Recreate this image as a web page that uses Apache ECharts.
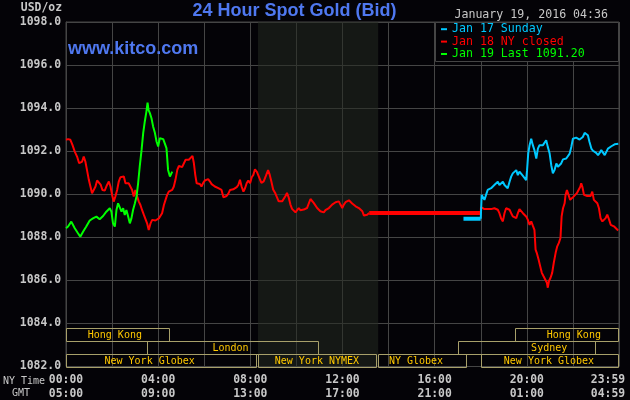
<!DOCTYPE html>
<html>
<head>
<meta charset="utf-8">
<script src="https://cdn.jsdelivr.net/npm/echarts@6/dist/echarts.min.js"></script>
<style>
html,body{margin:0;padding:0;background:#040307;}
#chart{width:630px;height:400px;}
</style>
</head>
<body>
<div id="chart"></div>
<script>
// ---- data (hours after NY midnight, USD/oz) ----
const greenTime = [0.00,0.09,0.23,0.38,0.52,0.62,0.74,0.88,1.03,1.17,1.32,1.46,1.61,1.75,1.90,1.97,2.04,2.12,2.19,2.26,2.33,2.41,2.48,2.55,2.62,2.70,2.77,2.84,2.91,2.99,3.06,3.13,3.20,3.28,3.35,3.42,3.49,3.54,3.58,3.64,3.71,3.78,3.86,3.93,4.00,4.07,4.14,4.22,4.29,4.36,4.43,4.51,4.55,4.61];
const greenValue = [1088.42,1088.50,1088.73,1088.42,1088.19,1088.03,1088.26,1088.50,1088.78,1088.88,1088.96,1088.84,1088.99,1089.19,1089.35,1089.19,1088.65,1088.50,1089.27,1089.58,1089.50,1089.19,1089.35,1089.04,1089.27,1088.96,1088.65,1088.88,1089.27,1089.58,1089.89,1090.51,1091.29,1092.06,1092.84,1093.38,1093.84,1094.26,1093.92,1093.77,1093.53,1093.15,1092.84,1092.45,1092.22,1092.60,1092.60,1092.56,1092.53,1092.14,1091.13,1090.82,1090.74,1091.05];

const redLeftTime = [0.00,0.09,0.19,0.28,0.38,0.48,0.57,0.62,0.70,0.77,0.84,0.91,0.99,1.06,1.13,1.20,1.28,1.35,1.43,1.51,1.58,1.68,1.78,1.86,1.93,2.00,2.07,2.14,2.22,2.29,2.36,2.43,2.51,2.58,2.65,2.72,2.80,2.87,2.94,3.01,3.09,3.16,3.23,3.30,3.38,3.45,3.52,3.59,3.67,3.74,3.81,3.88,3.96,4.03,4.10,4.17,4.25,4.32,4.39,4.46,4.54,4.61,4.68,4.75,4.83,4.90,4.97,5.04,5.12,5.19,5.26,5.33,5.41,5.49,5.55,5.61,5.67,5.74,5.81,5.88,5.96,6.03,6.10,6.17,6.25,6.32,6.39,6.46,6.54,6.61,6.68,6.75,6.83,6.90,6.97,7.04,7.12,7.19,7.26,7.33,7.41,7.48,7.55,7.62,7.70,7.77,7.84,7.91,7.99,8.06,8.13,8.20,8.28,8.35,
  8.48,8.58,8.67,8.77,8.84,8.91,8.99,9.09,9.16,9.23,9.30,9.38,9.45,9.52,9.59,9.67,9.74,9.81,9.88,9.96,10.03,10.10,10.17,10.25,10.32,10.39,10.46,10.54,10.61,10.68,10.75,10.83,10.90,10.97,11.04,11.12,11.19,11.26,11.33,11.41,11.48,11.55,11.62,11.70,11.77,11.84,11.91,11.99,12.06,12.13,12.20,12.28,12.35,12.42,12.49,12.57,12.64,12.71,12.78,12.86,12.93,13.00,13.07,13.16];
const redLeftValue = [1092.53,1092.56,1092.53,1092.29,1091.98,1091.75,1091.44,1091.36,1091.52,1091.75,1091.52,1091.13,1090.67,1090.36,1090.05,1090.05,1090.36,1090.64,1090.70,1090.43,1090.20,1090.17,1090.43,1090.59,1090.36,1089.97,1089.66,1089.89,1090.20,1090.59,1090.79,1090.74,1090.82,1090.51,1090.59,1090.51,1090.43,1090.20,1089.89,1090.20,1089.89,1089.66,1089.50,1089.27,1089.04,1088.96,1088.65,1088.34,1088.65,1088.81,1088.81,1088.78,1088.81,1088.88,1088.96,1089.12,1089.50,1089.74,1089.97,1090.12,1090.08,1090.20,1090.36,1090.67,1091.13,1091.32,1091.29,1091.26,1091.32,1091.60,1091.57,1091.60,1091.57,1091.78,1091.44,1090.90,1090.51,1090.43,1090.48,1090.36,1090.54,1090.64,1090.67,1090.70,1090.59,1090.47,1090.43,1090.36,1090.43,1090.28,1090.23,1090.20,1089.86,1089.81,1089.92,1090.02,1090.20,1090.20,1090.23,1090.28,1090.33,1090.43,1090.67,1090.36,1090.12,1090.28,1090.51,1090.64,1090.51,1090.79,1090.90,1091.16,1091.05,1090.98,
  1090.53,1090.60,1090.84,1091.12,1090.91,1090.60,1090.22,1090.03,1089.98,1089.67,1089.60,1089.67,1089.75,1089.91,1090.06,1089.83,1089.52,1089.32,1089.26,1089.16,1089.26,1089.36,1089.26,1089.21,1089.29,1089.36,1089.36,1089.44,1089.78,1089.72,1089.60,1089.52,1089.36,1089.29,1089.21,1089.13,1089.16,1089.26,1089.32,1089.36,1089.44,1089.52,1089.57,1089.63,1089.60,1089.67,1089.52,1089.36,1089.52,1089.63,1089.72,1089.72,1089.67,1089.57,1089.52,1089.44,1089.36,1089.36,1089.29,1089.21,1089.01,1088.98,1089.05,1089.13];

const redFlatTime = [13.16, 18.00];
const redFlatValue = [1089.13, 1089.13];

const redRightTime = [18.00,18.01,18.09,18.16,18.23,18.30,18.38,18.45,18.52,18.59,18.67,18.74,18.81,18.88,18.96,19.03,19.10,19.17,19.25,19.32,19.39,19.46,19.54,19.61,19.68,19.75,19.83,19.90,19.97,20.04,20.12,20.19,20.26,20.33,20.38,20.43,20.51,20.58,20.65,20.72,20.80,20.87,20.91,20.96,21.03,21.10,21.17,21.25,21.32,21.39,21.46,21.51,21.57,21.64,21.68,21.74,21.81,21.88,21.96,22.03,22.10,22.17,22.25,22.32,22.36,22.41,22.48,22.55,22.62,22.70,22.77,22.84,22.91,22.99,23.06,23.13,23.20,23.28,23.35,23.42,23.49,23.57,23.64,23.71,23.78,23.86,23.93,23.97];
const redRightValue = [1089.13,1089.40,1089.40,1089.31,1089.35,1089.31,1089.28,1089.31,1089.31,1089.35,1089.35,1089.28,1089.12,1088.89,1088.74,1089.12,1089.35,1089.40,1089.28,1089.12,1088.97,1089.05,1088.89,1089.12,1089.31,1089.28,1089.12,1089.05,1088.97,1088.82,1088.58,1088.74,1088.54,1088.35,1087.43,1087.28,1086.97,1086.66,1086.35,1086.20,1086.12,1085.89,1085.66,1085.97,1086.12,1086.35,1086.82,1087.28,1087.58,1087.74,1087.97,1088.97,1089.35,1089.58,1089.97,1090.20,1089.97,1089.74,1089.82,1089.89,1089.97,1090.05,1090.12,1090.35,1090.51,1090.35,1089.97,1089.97,1089.92,1089.97,1089.92,1090.12,1089.74,1089.74,1089.58,1089.35,1088.89,1088.74,1088.74,1088.89,1089.05,1088.82,1088.58,1088.54,1088.51,1088.43,1088.35,1088.32];

const cyanFlatTime = [17.25, 18.00];
const cyanFlatValue = [1088.86, 1088.86];

const cyanTime = [18.00,18.04,18.09,18.16,18.23,18.30,18.38,18.45,18.52,18.59,18.67,18.74,18.81,18.88,18.96,19.03,19.10,19.17,19.25,19.32,19.39,19.46,19.54,19.61,19.68,19.75,19.83,19.90,19.97,20.01,20.06,20.12,20.19,20.26,20.33,20.41,20.48,20.55,20.62,20.70,20.77,20.84,20.91,20.99,21.06,21.13,21.20,21.28,21.35,21.42,21.49,21.57,21.64,21.71,21.78,21.86,21.93,22.00,22.07,22.14,22.22,22.29,22.36,22.43,22.51,22.58,22.65,22.72,22.80,22.87,22.94,23.01,23.09,23.16,23.23,23.30,23.38,23.45,23.52,23.59,23.67,23.74,23.81,23.88,23.97];
const cyanValue = [1088.86,1089.97,1090.02,1089.74,1089.97,1090.20,1090.23,1090.28,1090.35,1090.43,1090.51,1090.58,1090.43,1090.51,1090.58,1090.43,1090.35,1090.28,1090.58,1090.82,1090.97,1091.05,1091.12,1090.89,1091.05,1090.97,1090.85,1090.82,1090.66,1091.12,1091.89,1092.28,1092.58,1092.28,1092.05,1091.66,1092.12,1092.28,1092.20,1092.28,1092.35,1092.51,1092.20,1091.89,1091.35,1090.97,1091.12,1091.43,1091.28,1091.20,1091.43,1091.62,1091.71,1091.66,1091.71,1091.89,1092.20,1092.58,1092.66,1092.63,1092.58,1092.54,1092.58,1092.66,1092.85,1092.92,1092.74,1092.43,1092.12,1092.02,1091.97,1091.92,1091.82,1091.92,1092.05,1091.97,1091.82,1091.97,1092.12,1092.20,1092.23,1092.28,1092.32,1092.32,1092.35];

const seriesNames = ['Jan 17 Sunday', 'Jan 18 NY closed', 'Jan 19 Last 1091.20'];

const nyTimeLabels = ['00:00','04:00','08:00','12:00','16:00','20:00','23:59'];
const gmtLabels    = ['05:00','09:00','13:00','17:00','21:00','01:00','04:59'];

const nymexPitStart = 8.33, nymexPitEnd = 13.55;

const sessionNames   = ['Hong Kong','Hong Kong','London','Sydney','New York Globex','New York NYMEX','NY Globex','New York Globex'];
const sessionStart   = [0, 19.5, 3.5, 17.0, 0, 8.35, 13.56, 18.0];
const sessionEnd     = [4.5, 24, 11.0, 23.0, 8.29, 13.5, 17.4, 24];
const sessionRow     = [0, 0, 1, 1, 2, 2, 2, 2];
const sessionLabelAt = [2.12, 22.04, 7.14, 20.97, 3.63, 10.89, 15.19, 20.96];

// ---- chart ----
const zip = (t, v) => t.map((x, i) => [x, v[i]]);
const RED = '#ff0000', CYAN = '#00c8ff', GREEN = '#00ff00';
const GRID = '#454545';
const LBL = '#c8c8c8';
const MONO = '"DejaVu Sans Mono", "Liberation Mono", monospace';

const chart = echarts.init(document.getElementById('chart'), null, {renderer: 'canvas'});

const option = {
  backgroundColor: '#040307',
  animation: false,
  grid: {left: 66, top: 22, width: 553, height: 344.5, show: true, borderColor: GRID, borderWidth: 1, backgroundColor: 'transparent',
    containLabel: false, outerBoundsMode: 'none'},
  xAxis: {
    type: 'value', min: 0, max: 24, interval: 2,
    axisLine: {show: false}, axisTick: {show: false},
    splitLine: {show: true, lineStyle: {color: GRID, width: 1}},
    axisLabel: {
      showMinLabel: true, showMaxLabel: true,
      color: LBL, fontFamily: MONO, fontWeight: 'bold', fontSize: 11.4, lineHeight: 14.5, margin: 6,
      formatter: function (v) {
        if (v % 4 !== 0) return '';
        const i = v / 4;
        if (v === 24) return '{e|' + nyTimeLabels[i] + '}\n{e|' + gmtLabels[i] + '}';
        return nyTimeLabels[i] + '\n' + gmtLabels[i];
      },
      rich: {e: {color: LBL, fontFamily: MONO, fontWeight: 'bold', fontSize: 11.4, lineHeight: 14.5, padding: [0, 22, 0, 0]}}
    }
  },
  yAxis: {
    type: 'value', min: 1082, max: 1098, interval: 2,
    axisLine: {show: true, lineStyle: {color: GRID}}, axisTick: {show: false},
    splitLine: {show: true, lineStyle: {color: GRID, width: 1}},
    axisLabel: {color: LBL, fontFamily: MONO, fontWeight: 'bold', fontSize: 11.4, margin: 5,
      formatter: v => v.toFixed(1)}
  },
  legend: {
    left: 441, top: 23, orient: 'vertical', itemGap: 0, itemWidth: 6, itemHeight: 2, icon: 'rect',
    selectedMode: false, padding: 0, z: 6,
    textStyle: {fontFamily: MONO, fontSize: 11.6, lineHeight: 12.4},
    data: [
      {name: seriesNames[0], textStyle: {color: CYAN}},
      {name: seriesNames[1], textStyle: {color: RED}},
      {name: seriesNames[2], textStyle: {color: GREEN}}
    ]
  },
  graphic: [
    {type: 'rect', z: 5, shape: {x: 435.5, y: 22.5, width: 183, height: 39}, style: {fill: '#040307', stroke: GRID, lineWidth: 1}},
    {type: 'text', z: 6, x: 294.5, y: 11, style: {text: '24 Hour Spot Gold (Bid)', fill: '#4f78f0', font: 'bold 18px "Liberation Sans", Arial, sans-serif', align: 'center', verticalAlign: 'middle'}},
    {type: 'text', z: 6, x: 68, y: 49, style: {text: 'www.kitco.com', fill: '#4f78f0', font: 'bold 18px "Liberation Sans", Arial, sans-serif', align: 'left', verticalAlign: 'middle'}},
    {type: 'text', z: 6, x: 608, y: 14.6, style: {text: 'January 19, 2016 04:36', fill: LBL, font: '11.6px ' + MONO, align: 'right', verticalAlign: 'middle'}},
    {type: 'text', z: 6, x: 62, y: 8, style: {text: 'USD/oz', fill: LBL, font: 'bold 11.4px ' + MONO, align: 'right', verticalAlign: 'middle'}},
    {type: 'text', z: 6, x: 3, y: 381, style: {text: 'NY Time', fill: LBL, font: '10px ' + MONO, align: 'left', verticalAlign: 'middle'}},
    {type: 'text', z: 6, x: 12, y: 393, style: {text: 'GMT', fill: LBL, font: '10px ' + MONO, align: 'left', verticalAlign: 'middle'}}
  ],
  series: [
    {
      type: 'line', name: 'pit', data: [], z: 1, silent: true,
      markArea: {silent: true, itemStyle: {color: 'rgba(36,42,32,0.55)'}, data: [[{xAxis: nymexPitStart}, {xAxis: nymexPitEnd}]]}
    },
    {
      type: 'custom', name: 'sessions', z: 3, silent: true, clip: false,
      data: sessionStart.map((s, i) => [s, sessionEnd[i], sessionRow[i], sessionLabelAt[i], i]),
      encode: {x: [0, 1, 3], y: -1},
      renderItem: function (params, api) {
        const s = api.value(0), e = api.value(1), row = api.value(2), lab = api.value(3), idx = api.value(4);
        const p0 = api.coord([s, 1082]), p1 = api.coord([e, 1082]);
        const rowH = api.size([0, 0.59])[1];
        const bottom = p0[1];
        const top = bottom - (3 - row) * rowH;
        const x0 = Math.round(p0[0]) + 0.5, x1 = Math.round(p1[0]) - 0.5;
        const y0 = Math.round(top) + 0.5, y1 = Math.round(top + rowH) + 0.5;
        return {
          type: 'group',
          children: [
            {type: 'rect', shape: {x: x0, y: y0, width: x1 - x0, height: y1 - y0}, style: {fill: null, stroke: '#a8a06a', lineWidth: 1}},
            {type: 'text', x: api.coord([lab, 1082])[0], y: (y0 + y1) / 2 + 0.5,
              style: {text: sessionNames[idx], fill: '#ffc800', font: '10px ' + MONO, align: 'center', verticalAlign: 'middle'}}
          ]
        };
      }
    },
    {type: 'line', name: seriesNames[1], data: zip(redLeftTime, redLeftValue), symbol: 'none', z: 4,
      lineStyle: {color: RED, width: 2}, itemStyle: {color: RED}},
    {type: 'line', name: seriesNames[1], data: zip(redFlatTime, redFlatValue), symbol: 'none', z: 4,
      lineStyle: {color: RED, width: 4}, itemStyle: {color: RED}},
    {type: 'line', name: seriesNames[1], data: zip(redRightTime, redRightValue), symbol: 'none', z: 4,
      lineStyle: {color: RED, width: 2}, itemStyle: {color: RED}},
    {type: 'line', name: seriesNames[0], data: zip(cyanFlatTime, cyanFlatValue), symbol: 'none', z: 5,
      lineStyle: {color: CYAN, width: 4}, itemStyle: {color: CYAN}},
    {type: 'line', name: seriesNames[0], data: zip(cyanTime, cyanValue), symbol: 'none', z: 5,
      lineStyle: {color: CYAN, width: 2}, itemStyle: {color: CYAN}},
    {type: 'line', name: seriesNames[2], data: zip(greenTime, greenValue), symbol: 'none', z: 5,
      lineStyle: {color: GREEN, width: 2}, itemStyle: {color: GREEN}}
  ]
};
chart.setOption(option);
</script>
</body>
</html>
